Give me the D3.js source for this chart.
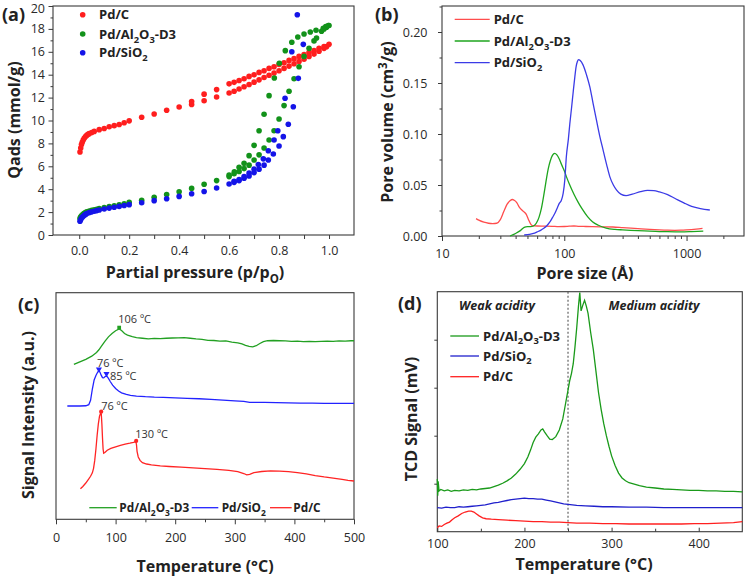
<!DOCTYPE html>
<html>
<head>
<meta charset="utf-8">
<script src="https://cdn.jsdelivr.net/npm/d3@7"></script>
<style>
  html, body { margin: 0; padding: 0; background: #fff; }
  svg { display: block; font-family: "Open Sans", "DejaVu Sans", sans-serif; }
  .tick text { font-family: "Open Sans", sans-serif; }
</style>
</head>
<body>
<script>
// ---------------- DATA ----------------
// (a) N2 adsorption isotherms: [p/p0, Qads mmol/g]
const isoPdC = [[0.003,7.25],[0.006,7.6],[0.009,7.9],[0.012,8.1],[0.016,8.3],[0.02,8.45],[0.025,8.6],[0.03,8.7],[0.035,8.8],[0.04,8.85],[0.05,8.95],[0.06,9.05],[0.08,9.2],[0.10,9.3],[0.12,9.45],[0.14,9.55],[0.16,9.65],[0.18,9.8],[0.20,9.97],[0.25,10.28],[0.30,10.57],[0.35,10.9],[0.40,11.18],[0.45,11.4],[0.50,11.73],[0.55,12.05],
  [0.60,12.4],[0.62,12.55],[0.64,12.75],[0.66,12.95],[0.68,13.15],[0.70,13.35],[0.72,13.55],[0.74,13.75],[0.76,13.95],[0.78,14.15],[0.80,14.35],[0.82,14.55],[0.84,14.75],[0.86,14.95],[0.88,15.15],[0.90,15.35],[0.92,15.6],[0.94,15.8],[0.96,16.05],[0.98,16.3],[0.99,16.45],[1.0,16.65],
  [0.45,11.65],[0.50,12.3],[0.55,12.7],[0.60,13.2],[0.62,13.33],[0.64,13.5],[0.66,13.65],[0.68,13.85],[0.70,14.0],[0.72,14.2],[0.74,14.35],[0.76,14.55],[0.78,14.7],[0.80,14.9],[0.82,15.05],[0.84,15.25],[0.86,15.4],[0.88,15.6],[0.90,15.75],[0.92,15.95],[0.94,16.1],[0.96,16.3],[0.98,16.45]];
const isoPdAl = [[0.003,1.45],[0.006,1.6],[0.01,1.7],[0.015,1.8],[0.02,1.9],[0.025,1.97],[0.03,2.03],[0.04,2.1],[0.05,2.15],[0.06,2.2],[0.07,2.25],[0.08,2.3],[0.10,2.4],[0.12,2.48],[0.14,2.56],[0.16,2.64],[0.18,2.72],[0.20,2.85],[0.25,3.04],[0.30,3.3],[0.35,3.54],[0.40,3.78],[0.45,4.07],[0.50,4.43],[0.55,4.75],
  [0.60,5.1],[0.62,5.35],[0.64,5.55],[0.66,5.8],[0.68,6.1],[0.70,6.55],[0.72,7.0],[0.74,7.6],[0.76,8.3],[0.78,9.1],[0.80,10.13],[0.82,11.3],[0.84,12.55],[0.86,13.65],[0.88,14.7],[0.90,15.6],[0.92,16.3],[0.94,16.95],[0.95,17.2],[0.97,17.8],[0.98,18.0],[0.99,18.15],[1.0,18.3],
  [0.997,18.3],[0.987,18.2],[0.977,18.05],[0.948,17.88],[0.925,17.73],[0.90,17.55],[0.875,17.29],[0.851,16.83],[0.825,16.1],[0.801,15.0],[0.781,13.71],[0.76,12.17],[0.74,10.54],[0.72,9.11],[0.70,7.83],[0.68,6.93],[0.66,6.26],[0.64,5.91],[0.621,5.53],[0.60,5.24]];
const isoPdSi = [[0.003,1.2],[0.006,1.35],[0.01,1.5],[0.015,1.62],[0.02,1.72],[0.025,1.8],[0.03,1.87],[0.04,1.95],[0.05,2.02],[0.06,2.08],[0.07,2.13],[0.08,2.18],[0.10,2.27],[0.12,2.35],[0.14,2.42],[0.16,2.5],[0.18,2.57],[0.20,2.65],[0.25,2.82],[0.30,3.0],[0.35,3.16],[0.40,3.37],[0.45,3.6],[0.50,3.8],[0.55,4.1],
  [0.60,4.45],[0.62,4.6],[0.64,4.75],[0.66,4.95],[0.68,5.15],[0.70,5.45],[0.72,5.75],[0.74,6.1],[0.757,6.55],[0.777,7.08],[0.80,7.77],[0.817,8.59],[0.837,9.67],[0.857,11.2],[0.877,13.68],[0.897,16.65],
  [0.873,19.24],[0.851,16.0],[0.824,11.94],[0.795,9.11],[0.78,8.3],[0.757,7.36],[0.737,6.65],[0.717,6.15],[0.70,5.75],[0.68,5.4],[0.66,5.1],[0.64,4.85],[0.62,4.7]];
const isoNames = ["Pd/C","Pd/Al_2O_3-D3","Pd/SiO_2"];
const xTicksA = [0.0,0.2,0.4,0.6,0.8,1.0];
const yTicksA = [0,2,4,6,8,10,12,14,16,18,20];

// (b) pore size distribution: [pore size Å, pore volume cm3/g]
const psdPdC = [[19,0.017],[20,0.0155],[22,0.0135],[24,0.0125],[26,0.0122],[28,0.0125],[30,0.016],[32,0.024],[34,0.031],[36,0.0345],[37.7,0.0358],[39,0.035],[41,0.0325],[43,0.028],[45,0.0255],[47,0.0235],[49,0.021],[51,0.016],[53,0.012],[55,0.0102],[60,0.0098],[70,0.0097],[80,0.0095],[90,0.0092],[100,0.0093],[110,0.0096],[120,0.0098],[130,0.0095],[150,0.0093],[200,0.009],[250,0.0088],[300,0.0082],[400,0.0072],[500,0.0065],[600,0.006],[700,0.0057],[800,0.0056],[900,0.0057],[1000,0.006],[1200,0.0068],[1350,0.0075]];
const psdPdAl = [[36,0],[40,0.0025],[44,0.0055],[47,0.0085],[50,0.0092],[53,0.0092],[56,0.0098],[59,0.0125],[62,0.018],[65,0.027],[68,0.040],[71,0.054],[74,0.066],[77,0.074],[80,0.079],[83.5,0.081],[87,0.0795],[91,0.0755],[95,0.07],[100,0.064],[105,0.057],[110,0.051],[120,0.041],[130,0.033],[140,0.0265],[155,0.019],[170,0.014],[190,0.0105],[220,0.0078],[260,0.0065],[300,0.006],[400,0.0052],[500,0.0048],[700,0.0042],[900,0.004],[1100,0.0043],[1370,0.0048]];
const psdPdSi = [[47,0.001],[52,0.0015],[56,0.0025],[60,0.004],[64,0.0055],[68,0.0075],[72,0.01],[76,0.0135],[80,0.018],[84,0.0225],[88,0.028],[91,0.032],[94.7,0.035],[98,0.042],[101,0.055],[104,0.078],[108,0.095],[111,0.11],[115,0.127],[118,0.14],[122,0.156],[125,0.166],[128,0.171],[131,0.173],[135,0.172],[142,0.168],[152,0.158],[162,0.146],[172,0.13],[183,0.114],[195,0.098],[208,0.084],[222,0.07],[236,0.058],[252,0.05],[268,0.045],[290,0.041],[320,0.0395],[360,0.041],[420,0.0435],[480,0.0448],[540,0.0445],[600,0.0432],[700,0.0405],[800,0.037],[950,0.0325],[1100,0.029],[1300,0.0268],[1550,0.0255]];
const psdNames = ["Pd/C","Pd/Al_2O_3-D3","Pd/SiO_2"];
const xTicksB = [10,100,1000];
const yTicksB = [0,0.05,0.10,0.15,0.20];

// (c) TPD signal: [temperature °C, signal a.u.]
const tpdPdAl = [[30,68.4],[40,69.5],[50,70.6],[60,72.0],[68,73.6],[72,74.8],[76,76.3],[82,78.5],[88,80.5],[94,82.0],[100,83.2],[106,84.0],[110,83.3],[115,82.0],[120,81.3],[128,80.6],[135,80.2],[145,79.9],[155,79.6],[165,79.8],[175,79.7],[185,79.9],[195,80.0],[205,80.1],[215,80.2],[225,79.9],[235,79.6],[245,79.4],[255,79.0],[265,78.9],[275,78.6],[285,78.7],[295,78.2],[305,77.9],[312,77.4],[318,76.8],[324,76.3],[330,76.1],[336,76.6],[342,77.6],[348,78.4],[355,78.8],[365,78.9],[375,78.8],[385,78.7],[395,78.5],[405,78.6],[415,78.4],[425,78.5],[435,78.4],[445,78.5],[455,78.6],[465,78.5],[475,78.7],[485,78.6],[495,78.8],[500,78.8]];
const tpdPdSi = [[19,50.0],[30,50.0],[40,50.0],[50,50.1],[55,50.6],[58,52.5],[61,57.5],[64,61.5],[67,63.5],[70,65.0],[72,65.6],[74,64.8],[76,63.5],[78,62.5],[80,62.4],[82,62.9],[85,63.3],[88,62.2],[91,60.8],[95,59.2],[100,57.7],[105,56.6],[110,55.8],[118,55.1],[125,54.7],[135,54.4],[150,54.1],[165,53.9],[180,53.8],[200,53.6],[220,53.4],[240,53.2],[260,52.9],[280,52.6],[300,52.3],[315,52.0],[325,51.6],[335,51.6],[350,51.6],[370,51.5],[390,51.4],[410,51.3],[430,51.3],[450,51.2],[470,51.2],[500,51.2]];
const tpdPdC = [[41,13.5],[45,14.5],[50,16.0],[55,17.8],[58,19.0],[61,20.5],[63,22.5],[65,26],[67,31],[69,37],[71,42],[73,45.5],[75,46.9],[76,46.5],[77,42],[78,36],[79,31],[80,29.2],[82,29.5],[86,30.5],[92,31.3],[100,32.0],[108,32.6],[116,33.2],[124,33.6],[130,34.0],[134,34.3],[135,33],[136,30],[138,27.5],[141,26],[145,25],[152,24.4],[160,24.0],[175,23.6],[190,23.3],[210,23.0],[230,22.7],[250,22.4],[270,22.0],[290,21.6],[305,21.0],[315,20.2],[320,19.6],[325,19.8],[332,20.6],[345,21.1],[360,21.4],[375,21.3],[390,21.0],[405,20.6],[420,20.0],[435,19.3],[450,18.7],[465,18.2],[480,17.6],[490,17.2],[500,16.9]];
const tpdNames = ["Pd/Al_2O_3-D3","Pd/SiO_2","Pd/C"];
const tpdPeaks = [ // [series index, T, signal, label]
  [0,106,84.6,"106 ºC"],[1,72,66.2,"76 ºC"],[1,84.7,64.2,"85 ºC"],[2,75.8,47.5,"76 ºC"],[2,134.5,34.6,"130 ºC"]];
const xTicksC = [0,100,200,300,400,500];

// (d) NH3-TPD TCD signal: [temperature °C, signal]
const tcdPdAl = [[100,1.1],[100.5,0.75],[101,1.05],[102,0.85],[104,0.88],[108,0.85],[112,0.87],[116,0.84],[120,0.86],[125,0.85],[130,0.87],[135,0.86],[140,0.88],[145,0.87],[150,0.89],[155,0.9],[160,0.91],[165,0.94],[170,0.97],[175,1.01],[180,1.06],[185,1.12],[190,1.2],[195,1.3],[200,1.42],[204,1.56],[207,1.7],[210,1.86],[213,1.97],[216,2.04],[219,2.12],[221,2.14],[223,2.08],[226,2.0],[229,1.93],[232,1.92],[236,1.98],[240,2.12],[244,2.35],[247,2.65],[250,2.95],[252,3.15],[254,3.3],[256,3.5],[258,3.85],[260,4.25],[262,4.7],[263.5,4.98],[265,4.6],[267,4.72],[269,4.82],[271,4.7],[273,4.55],[276,4.15],[279,3.8],[282,3.35],[285,2.9],[288,2.55],[291,2.25],[294,2.0],[297,1.78],[300,1.58],[304,1.38],[308,1.22],[312,1.12],[316,1.06],[320,1.02],[326,0.99],[332,0.96],[340,0.93],[350,0.91],[360,0.89],[370,0.88],[380,0.87],[390,0.86],[400,0.86],[410,0.85],[420,0.85],[430,0.84],[440,0.84],[450,0.83]];
const tcdPdSi = [[100,0.5],[105,0.49],[110,0.51],[115,0.5],[120,0.5],[125,0.52],[130,0.51],[135,0.52],[140,0.53],[145,0.54],[150,0.55],[155,0.56],[160,0.58],[165,0.6],[170,0.61],[175,0.63],[180,0.65],[185,0.67],[190,0.68],[195,0.69],[200,0.7],[205,0.69],[210,0.69],[215,0.68],[220,0.68],[225,0.66],[230,0.64],[235,0.62],[240,0.6],[245,0.58],[250,0.57],[255,0.56],[260,0.55],[270,0.54],[280,0.53],[290,0.52],[300,0.52],[320,0.51],[340,0.51],[360,0.5],[380,0.5],[400,0.5],[420,0.5],[440,0.5],[450,0.5]];
const tcdPdC = [[100,0.08],[102,0.12],[105,0.11],[108,0.15],[111,0.18],[114,0.2],[117,0.25],[120,0.29],[124,0.33],[128,0.38],[132,0.41],[136,0.43],[139,0.43],[142,0.41],[145,0.37],[148,0.33],[152,0.29],[156,0.27],[162,0.26],[170,0.25],[180,0.24],[190,0.23],[200,0.22],[210,0.21],[220,0.21],[230,0.2],[240,0.2],[250,0.19],[260,0.18],[275,0.18],[290,0.17],[305,0.17],[320,0.16],[335,0.16],[350,0.16],[365,0.16],[380,0.16],[395,0.17],[410,0.17],[425,0.18],[440,0.19],[450,0.21]];
const tcdNames = ["Pd/Al_2O_3-D3","Pd/SiO_2","Pd/C"];
const tcdBoundary = 250;
const tcdRegions = ["Weak acidity","Medium acidity"];
const xTicksD = [100,200,300,400];

// ---------------- DRAWING ----------------
const svg = d3.select("body").append("svg").attr("width",746).attr("height",578);
const INK = "#222", FRAME = "#3a3a3a";
const FONT = '"Open Sans", sans-serif';

function rich(t, str, fs){
  const re = /([_^])(.)|([^_^]+)/g; let m, cur = 0;
  while ((m = re.exec(str))) {
    let target, txt, size = null;
    if (m[3]) { target = 0; txt = m[3]; }
    else { target = m[1] === "_" ? fs*0.3 : -fs*0.38; txt = m[2]; size = fs*0.72; }
    const ts = t.append("tspan").text(txt);
    if (size) ts.attr("font-size", size);
    if (target !== cur) ts.attr("dy", target - cur);
    cur = target;
  }
  return t;
}
function txt(g, x, y, str, o={}){
  const fs = o.size || 13;
  const t = g.append("text").attr("x",x).attr("y",y)
    .attr("font-size",fs).attr("font-family",FONT)
    .attr("font-weight",o.weight||"normal").attr("font-style",o.style||"normal")
    .attr("fill",o.fill||INK).attr("text-anchor",o.anchor||"start");
  if (o.rotate) t.attr("x",0).attr("y",0).attr("transform",`translate(${x},${y}) rotate(-90)`);
  return rich(t, str, fs);
}
function styleAxis(sel, fs){
  sel.select(".domain").remove();
  sel.selectAll(".tick line").attr("stroke",FRAME).attr("stroke-width",1);
  sel.selectAll(".tick text").attr("font-size",fs||12.5).attr("fill","#2a2a2a").attr("font-family",FONT);
}
function frame(g, x0, x1, y0, y1){
  g.append("rect").attr("x",x0).attr("y",y0).attr("width",x1-x0).attr("height",y1-y0)
    .attr("fill","none").attr("stroke",FRAME).attr("stroke-width",1.1);
}

// ===== Panel (a) =====
{
  const g = svg.append("g");
  const x = d3.scaleLinear().domain([-0.105,1.1]).range([53,354]);
  const y = d3.scaleLinear().domain([0,20]).range([235,6]);
  const minorX = d3.range(1,10,2).map(d=>d/10);
  g.append("g").attr("transform","translate(0,235)").call(d3.axisBottom(x).tickValues(minorX).tickFormat("").tickSize(4)).call(styleAxis);
  g.append("g").attr("transform","translate(0,235)").call(d3.axisBottom(x).tickValues(xTicksA).tickFormat(d3.format(".1f")).tickSize(4).tickPadding(7)).call(styleAxis);
  g.append("g").attr("transform","translate(53,0)").call(d3.axisLeft(y).tickValues(d3.range(1,20,2)).tickFormat("").tickSize(2.5)).call(styleAxis);
  g.append("g").attr("transform","translate(53,0)").call(d3.axisLeft(y).tickValues(yTicksA).tickSize(4.5).tickPadding(3.5)).call(styleAxis);
  // keep the top label fully inside the picture
  g.selectAll(".tick text").filter(d=>d===20).attr("dy","0.5em");
  frame(g,53,354,6,235);
  const cols = ["#ff1e1e","#12921a","#1414e8"];
  const sets = [isoPdC, isoPdAl, isoPdSi];
  sets.forEach((s,i)=>{
    g.append("g").selectAll("circle").data(s).join("circle")
      .attr("cx",d=>x(d[0])).attr("cy",d=>y(d[1])).attr("r",2.8).attr("fill",cols[i]);
  });
  const ly = [14.7,34,52.7];
  isoNames.forEach((n,i)=>{
    g.append("circle").attr("cx",82.7).attr("cy",ly[i]).attr("r",2.8).attr("fill",cols[i]);
    txt(g,99,ly[i]+4.6,n,{size:13,weight:"bold"});
  });
  txt(g,2,21,"(a)",{size:18,weight:"bold"});
  txt(g,19.5,120,"Qads (mmol/g)",{size:16,weight:"bold",rotate:true,anchor:"middle"});
  txt(g,195,278,"Partial pressure (p/p_O)",{size:16,weight:"bold",anchor:"middle"});
}

// ===== Panel (b) =====
{
  const g = svg.append("g");
  const x = d3.scaleLog().domain([10,2950]).range([442,744]);
  const y = d3.scaleLinear().domain([0,0.2255]).range([236,6]);
  const minorX = [];
  [10,100,1000].forEach(b=>{ for(let k=2;k<=9;k++){ if(b*k<=2950) minorX.push(b*k);} });
  g.append("g").attr("transform","translate(0,236)").call(d3.axisBottom(x).tickValues(minorX).tickFormat("").tickSize(3)).call(styleAxis);
  g.append("g").attr("transform","translate(0,236)").call(d3.axisBottom(x).tickValues(xTicksB).tickFormat(d3.format("d")).tickSize(5).tickPadding(8)).call(styleAxis);
  g.append("g").attr("transform","translate(442,0)").call(d3.axisLeft(y).tickValues([0.025,0.075,0.125,0.175,0.225]).tickFormat("").tickSize(2.5)).call(styleAxis);
  g.append("g").attr("transform","translate(442,0)").call(d3.axisLeft(y).tickValues(yTicksB).tickFormat(d3.format(".2f")).tickSize(4).tickPadding(10.5)).call(styleAxis);
  frame(g,442,744,6,236);
  const cols = ["#ff4d4d","#1ea51e","#3b3be6"];
  const line = d3.line().x(d=>x(d[0])).y(d=>y(d[1])).curve(d3.curveMonotoneX);
  [psdPdC, psdPdAl, psdPdSi].forEach((s,i)=>{
    g.append("path").datum(s).attr("d",line).attr("fill","none").attr("stroke",cols[i]).attr("stroke-width",1.3);
  });
  const ly = [19.3,41,62.7];
  psdNames.forEach((n,i)=>{
    g.append("line").attr("x1",454.7).attr("x2",489.7).attr("y1",ly[i]).attr("y2",ly[i]).attr("stroke",cols[i]).attr("stroke-width",1.3);
    txt(g,493.7,ly[i]+4.6,n,{size:13,weight:"bold"});
  });
  txt(g,375,21,"(b)",{size:18,weight:"bold"});
  txt(g,393,122,"Pore volume (cm^3/g)",{size:16,weight:"bold",rotate:true,anchor:"middle"});
  txt(g,585,279,"Pore size (Å)",{size:16,weight:"bold",anchor:"middle"});
}

// ===== Panel (c) =====
{
  const g = svg.append("g");
  const x = d3.scaleLinear().domain([0,500]).range([56,354]);
  const y = d3.scaleLinear().domain([0,100]).range([519.3,292.7]);
  g.append("g").attr("transform","translate(0,519.3)").call(d3.axisBottom(x).tickValues(d3.range(50,500,100)).tickFormat("").tickSize(3)).call(styleAxis);
  g.append("g").attr("transform","translate(0,519.3)").call(d3.axisBottom(x).tickValues(xTicksC).tickSize(5).tickPadding(9)).call(styleAxis);
  frame(g,56,354,292.7,519.3);
  const cols = ["#22a022","#2222ff","#ff2424"];
  const line = d3.line().x(d=>x(d[0])).y(d=>y(d[1]));
  [tpdPdAl, tpdPdSi, tpdPdC].forEach((s,i)=>{
    g.append("path").datum(s).attr("d",line).attr("fill","none").attr("stroke",cols[i]).attr("stroke-width",1.3);
  });
  const shapes = [d3.symbolSquare, d3.symbolTriangle, d3.symbolCircle];
  const off = [[-1,-5],[-2,-2.5],[3.5,6.5],[0,-2],[-1,-2.5]];
  tpdPeaks.forEach((p,k)=>{
    const [si,T,v,lab] = p;
    const px = x(T), py = y(v);
    g.append("path").attr("d",d3.symbol().type(shapes[si]).size(si===1?16:14)()).attr("fill",cols[si])
      .attr("transform",`translate(${px},${py})` + (si===1?" rotate(180)":""));
    txt(g,px+off[k][0],py+off[k][1],lab,{size:11,fill:"#333"});
  });
  const ly = 507.7;
  const lx = [[89.3,116.7,119.3],[191.7,218.3,221.7],[270,291.7,293.3]];
  tpdNames.forEach((n,i)=>{
    g.append("line").attr("x1",lx[i][0]).attr("x2",lx[i][1]).attr("y1",ly).attr("y2",ly).attr("stroke",cols[i]).attr("stroke-width",1.3);
    txt(g,lx[i][2],ly+4.3,n,{size:11.8,weight:"bold"});
  });
  txt(g,18,311,"(c)",{size:18,weight:"bold"});
  txt(g,34,415,"Signal Intensity (a.u.)",{size:16,weight:"bold",rotate:true,anchor:"middle"});
  txt(g,205,572,"Temperature (°C)",{size:16,weight:"bold",anchor:"middle"});
}

// ===== Panel (d) =====
{
  const g = svg.append("g");
  const x = d3.scaleLinear().domain([100,450]).range([437.3,742.3]);
  const y = d3.scaleLinear().domain([0,5]).range([531.7,291.7]);
  g.append("g").attr("transform","translate(0,531.7)").call(d3.axisBottom(x).tickValues([150,250,350]).tickFormat("").tickSize(-3)).call(styleAxis);
  g.append("g").attr("transform","translate(0,531.7)").call(d3.axisBottom(x).tickValues(xTicksD).tickSize(-4).tickPadding(7.5)).call(styleAxis);
  g.append("g").attr("transform","translate(437.3,0)").call(d3.axisLeft(y).tickValues([1,2,3,4]).tickFormat("").tickSize(3)).call(styleAxis);
  frame(g,437.3,742.3,291.7,531.7);
  g.append("line").attr("x1",x(tcdBoundary)).attr("x2",x(tcdBoundary)).attr("y1",291.7).attr("y2",531.7)
    .attr("stroke","#555").attr("stroke-width",1.1).attr("stroke-dasharray","2,2");
  const cols = ["#1a9a1a","#2020cc","#ff2020"];
  const line = d3.line().x(d=>x(d[0])).y(d=>y(d[1]));
  [tcdPdAl, tcdPdSi, tcdPdC].forEach((s,i)=>{
    g.append("path").datum(s).attr("d",line).attr("fill","none").attr("stroke",cols[i]).attr("stroke-width",1.3);
  });
  const ly = [336,356,376.7];
  tcdNames.forEach((n,i)=>{
    g.append("line").attr("x1",450.3).attr("x2",479).attr("y1",ly[i]).attr("y2",ly[i]).attr("stroke",cols[i]).attr("stroke-width",1.3);
    txt(g,483,ly[i]+4.5,n,{size:13,weight:"bold"});
  });
  txt(g,497,310,tcdRegions[0],{size:12.5,weight:"bold",style:"italic",anchor:"middle"});
  txt(g,654,310,tcdRegions[1],{size:12.5,weight:"bold",style:"italic",anchor:"middle"});
  txt(g,398,310,"(d)",{size:18,weight:"bold"});
  txt(g,417,419,"TCD Signal (mV)",{size:16,weight:"bold",rotate:true,anchor:"middle"});
  txt(g,584,570,"Temperature (°C)",{size:16,weight:"bold",anchor:"middle"});
}
</script>
</body>
</html>
